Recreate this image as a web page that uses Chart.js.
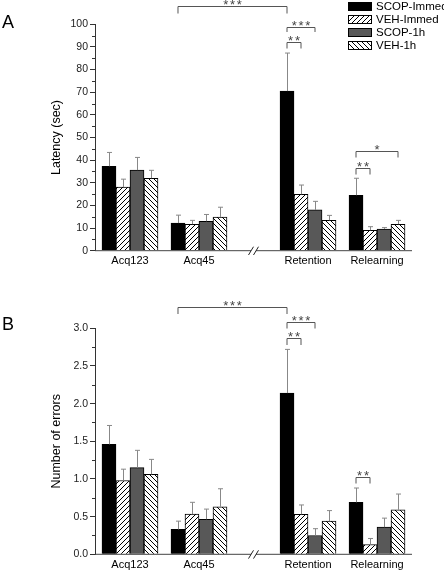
<!DOCTYPE html>
<html>
<head>
<meta charset="utf-8">
<script src="https://cdn.jsdelivr.net/npm/chart.js@4.4.1/dist/chart.umd.min.js"></script>
<style>
  body { margin: 0; background: #fff; }
  canvas { display: block; }
</style>
</head>
<body>
<canvas id="chartA" width="444" height="285"></canvas>
<canvas id="chartB" width="444" height="285"></canvas>
<script>
// groups along the x axis (there is a break between Acq45 and Retention)
const categories = ['Acq123', 'Acq45', 'Retention', 'Relearning'];
const groupPos = [0, 1, 2.58, 3.58];
const breakAt = 1.79;
const seriesNames = ['SCOP-Immed', 'VEH-Immed', 'SCOP-1h', 'VEH-1h'];

// panel A - latency (sec), one row per series
const latencyMeans = [
  [37.3, 12.2, 70.5, 24.5],
  [28.1, 11.7, 24.9, 9.0],
  [35.6, 13.0, 18.0, 9.6],
  [32.0, 14.9, 13.4, 11.7]
];
const latencyErrs = [
  [6.1, 3.5, 16.8, 7.5],
  [3.5, 1.7, 4.1, 1.6],
  [5.6, 3.0, 3.8, 0.6],
  [3.5, 4.3, 2.2, 1.7]
];
// significance brackets: [group, series] -> [group, series]
const latencyBrackets = [
  { from: [1, 0], to: [2, 0], y: 108.1, leg: 7, text: '***' },
  { from: [2, 0], to: [2, 2], y: 98.7, leg: 4.5, text: '***' },
  { from: [2, 0], to: [2, 1], y: 92.0, leg: 6, text: '**' },
  { from: [3, 0], to: [3, 3], y: 44.2, leg: 6, text: '*' },
  { from: [3, 0], to: [3, 1], y: 36.7, leg: 6, text: '**' }
];

// panel B - number of errors
const errorMeans = [
  [1.46, 0.33, 2.14, 0.69],
  [0.98, 0.535, 0.53, 0.13],
  [1.15, 0.465, 0.25, 0.36],
  [1.06, 0.63, 0.44, 0.59]
];
const errorErrs = [
  [0.25, 0.11, 0.58, 0.19],
  [0.15, 0.155, 0.125, 0.08],
  [0.23, 0.135, 0.09, 0.12],
  [0.2, 0.24, 0.14, 0.21]
];
const errorBrackets = [
  { from: [1, 0], to: [2, 0], y: 3.283, leg: 6.5, text: '***' },
  { from: [2, 0], to: [2, 2], y: 3.08, leg: 6, text: '***' },
  { from: [2, 0], to: [2, 1], y: 2.867, leg: 6.5, text: '**' },
  { from: [3, 0], to: [3, 1], y: 1.022, leg: 6, text: '**' }
];

const FONT = '"Liberation Sans", Arial, sans-serif';

function hatch(forward) {
  const s = 5;
  const c = document.createElement('canvas');
  c.width = c.height = s;
  const g = c.getContext('2d');
  g.fillStyle = '#fff';
  g.fillRect(0, 0, s, s);
  g.strokeStyle = '#000';
  g.lineWidth = 1;
  g.beginPath();
  if (forward) {
    g.moveTo(-1, s + 1); g.lineTo(s + 1, -1);
    g.moveTo(-1, 1); g.lineTo(1, -1);
    g.moveTo(s - 1, s + 1); g.lineTo(s + 1, s - 1);
  } else {
    g.moveTo(-1, -1); g.lineTo(s + 1, s + 1);
    g.moveTo(s - 1, -1); g.lineTo(s + 1, 1);
    g.moveTo(-1, s - 1); g.lineTo(1, s + 1);
  }
  g.stroke();
  return g.createPattern(c, 'repeat');
}

const fills = ['#000', hatch(true), '#585858', hatch(false)];

function makeChart(id, p) {
  // draws error bars, broken x axis, minor ticks, brackets, titles, legend
  const overlay = {
    id: 'overlay',
    afterDatasetsDraw(chart) {
      const ctx = chart.ctx;
      const ys = chart.scales.y;
      ctx.save();
      ctx.strokeStyle = '#888';
      ctx.lineWidth = 1;
      p.means.forEach((row, s) => {
        const meta = chart.getDatasetMeta(s);
        meta.data.forEach((bar, g) => {
          const top = ys.getPixelForValue(row[g] + p.errs[s][g]);
          const x = Math.round(bar.x) + 0.5;
          ctx.beginPath();
          ctx.moveTo(x, bar.y);
          ctx.lineTo(x, top);
          ctx.moveTo(x - 2.5, top);
          ctx.lineTo(x + 2.5, top);
          ctx.stroke();
        });
      });
      ctx.restore();
    },
    afterDraw(chart) {
      const ctx = chart.ctx;
      const area = chart.chartArea;
      const xs = chart.scales.x;
      const ys = chart.scales.y;
      ctx.save();

      // x axis with break
      const bx = xs.getPixelForValue(breakAt);
      const by = area.bottom;
      ctx.strokeStyle = '#444';
      ctx.lineWidth = 1;
      ctx.beginPath();
      ctx.moveTo(area.left, by);
      ctx.lineTo(bx - 2.5, by);
      ctx.moveTo(bx + 2.5, by);
      ctx.lineTo(area.right, by);
      ctx.stroke();
      ctx.strokeStyle = '#222';
      ctx.beginPath();
      ctx.moveTo(bx - 5, by + 4.3); ctx.lineTo(bx, by - 4);
      ctx.moveTo(bx, by + 4.3); ctx.lineTo(bx + 5, by - 4);
      ctx.stroke();

      // minor ticks on y
      ctx.strokeStyle = '#333';
      for (let v = p.step / 2; v < p.max; v += p.step) {
        const y = Math.round(ys.getPixelForValue(v)) + 0.5;
        ctx.beginPath();
        ctx.moveTo(area.left - 3, y);
        ctx.lineTo(area.left, y);
        ctx.stroke();
      }

      // significance brackets
      p.brackets.forEach(b => {
        const x1 = chart.getDatasetMeta(b.from[1]).data[b.from[0]].x;
        const x2 = chart.getDatasetMeta(b.to[1]).data[b.to[0]].x;
        const y = Math.round(ys.getPixelForValue(b.y)) + 0.5;
        ctx.strokeStyle = '#555';
        ctx.beginPath();
        ctx.moveTo(x1, y + b.leg);
        ctx.lineTo(x1, y);
        ctx.lineTo(x2, y);
        ctx.lineTo(x2, y + b.leg);
        ctx.stroke();
        ctx.fillStyle = '#444';
        ctx.font = '13px ' + FONT;
        ctx.textAlign = 'center';
        ctx.textBaseline = 'alphabetic';
        const n = b.text.length;
        const cx = (x1 + x2) / 2;
        for (let i = 0; i < n; i++) {
          ctx.fillText('*', cx + (i - (n - 1) / 2) * 6.8, y - 4.5 + 7.4);
        }
      });

      // y axis title
      ctx.fillStyle = '#000';
      ctx.font = '12.5px ' + FONT;
      ctx.textAlign = 'center';
      ctx.textBaseline = 'middle';
      ctx.translate(57, (area.top + area.bottom) / 2);
      ctx.rotate(-Math.PI / 2);
      ctx.fillText(p.title, 0, 0);
      ctx.setTransform(1, 0, 0, 1, 0, 0);

      // panel letter
      ctx.font = '18px ' + FONT;
      ctx.textAlign = 'left';
      ctx.textBaseline = 'alphabetic';
      ctx.fillText(p.letter, 2, p.letterY);

      // legend
      if (p.legend) {
        ctx.font = '11.5px ' + FONT;
        ctx.textBaseline = 'middle';
        seriesNames.forEach((name, i) => {
          const cy = 6.5 + i * 13;
          ctx.fillStyle = fills[i];
          ctx.fillRect(348, cy - 4.5, 24, 9);
          ctx.strokeStyle = '#000';
          ctx.strokeRect(348.5, cy - 4, 23, 8);
          ctx.fillStyle = '#000';
          ctx.fillText(name, 376, cy + 0.5);
        });
      }
      ctx.restore();
    }
  };

  return new Chart(document.getElementById(id), {
    type: 'bar',
    data: {
      datasets: seriesNames.map((name, s) => ({
        label: name,
        data: groupPos.map((x, g) => ({ x: x, y: p.means[s][g] })),
        backgroundColor: fills[s],
        borderColor: '#000',
        borderWidth: 1,
        barThickness: 14
      }))
    },
    options: {
      responsive: false,
      animation: false,
      devicePixelRatio: 1,
      layout: { padding: { top: p.padTop, right: 32, left: 0, bottom: 0 } },
      plugins: { legend: { display: false }, tooltip: { enabled: false } },
      scales: {
        x: {
          type: 'linear',
          offset: false,
          min: -0.507,
          max: 4.087,
          grid: { display: false, drawTicks: false, offset: false },
          border: { display: false },
          afterBuildTicks: s => { s.ticks = groupPos.map(v => ({ value: v })); },
          afterFit: s => { s.height = p.xHeight; },
          ticks: {
            autoSkip: false,
            maxRotation: 0,
            padding: 4,
            color: '#000',
            font: { family: FONT, size: 11 },
            callback: (v, i) => categories[i]
          }
        },
        y: {
          min: 0,
          max: p.max,
          afterFit: s => { s.width = 95; },
          grid: { display: true, drawOnChartArea: false, tickLength: 5, color: '#333' },
          border: { display: true, color: '#333' },
          ticks: {
            stepSize: p.step,
            padding: 2,
            color: '#222',
            font: { family: FONT, size: 10.5 },
            callback: p.fmt
          }
        }
      }
    },
    plugins: [overlay]
  });
}

makeChart('chartA', {
  means: latencyMeans, errs: latencyErrs, brackets: latencyBrackets,
  max: 100, step: 10, fmt: v => String(v),
  title: 'Latency (sec)', letter: 'A', letterY: 28, legend: true,
  padTop: 24.3, xHeight: 34.3
});
makeChart('chartB', {
  means: errorMeans, errs: errorErrs, brackets: errorBrackets,
  max: 3, step: 0.5, fmt: v => v.toFixed(1),
  title: 'Number of errors', letter: 'B', letterY: 45, legend: false,
  padTop: 43.3, xHeight: 15.7
});
</script>
</body>
</html>
